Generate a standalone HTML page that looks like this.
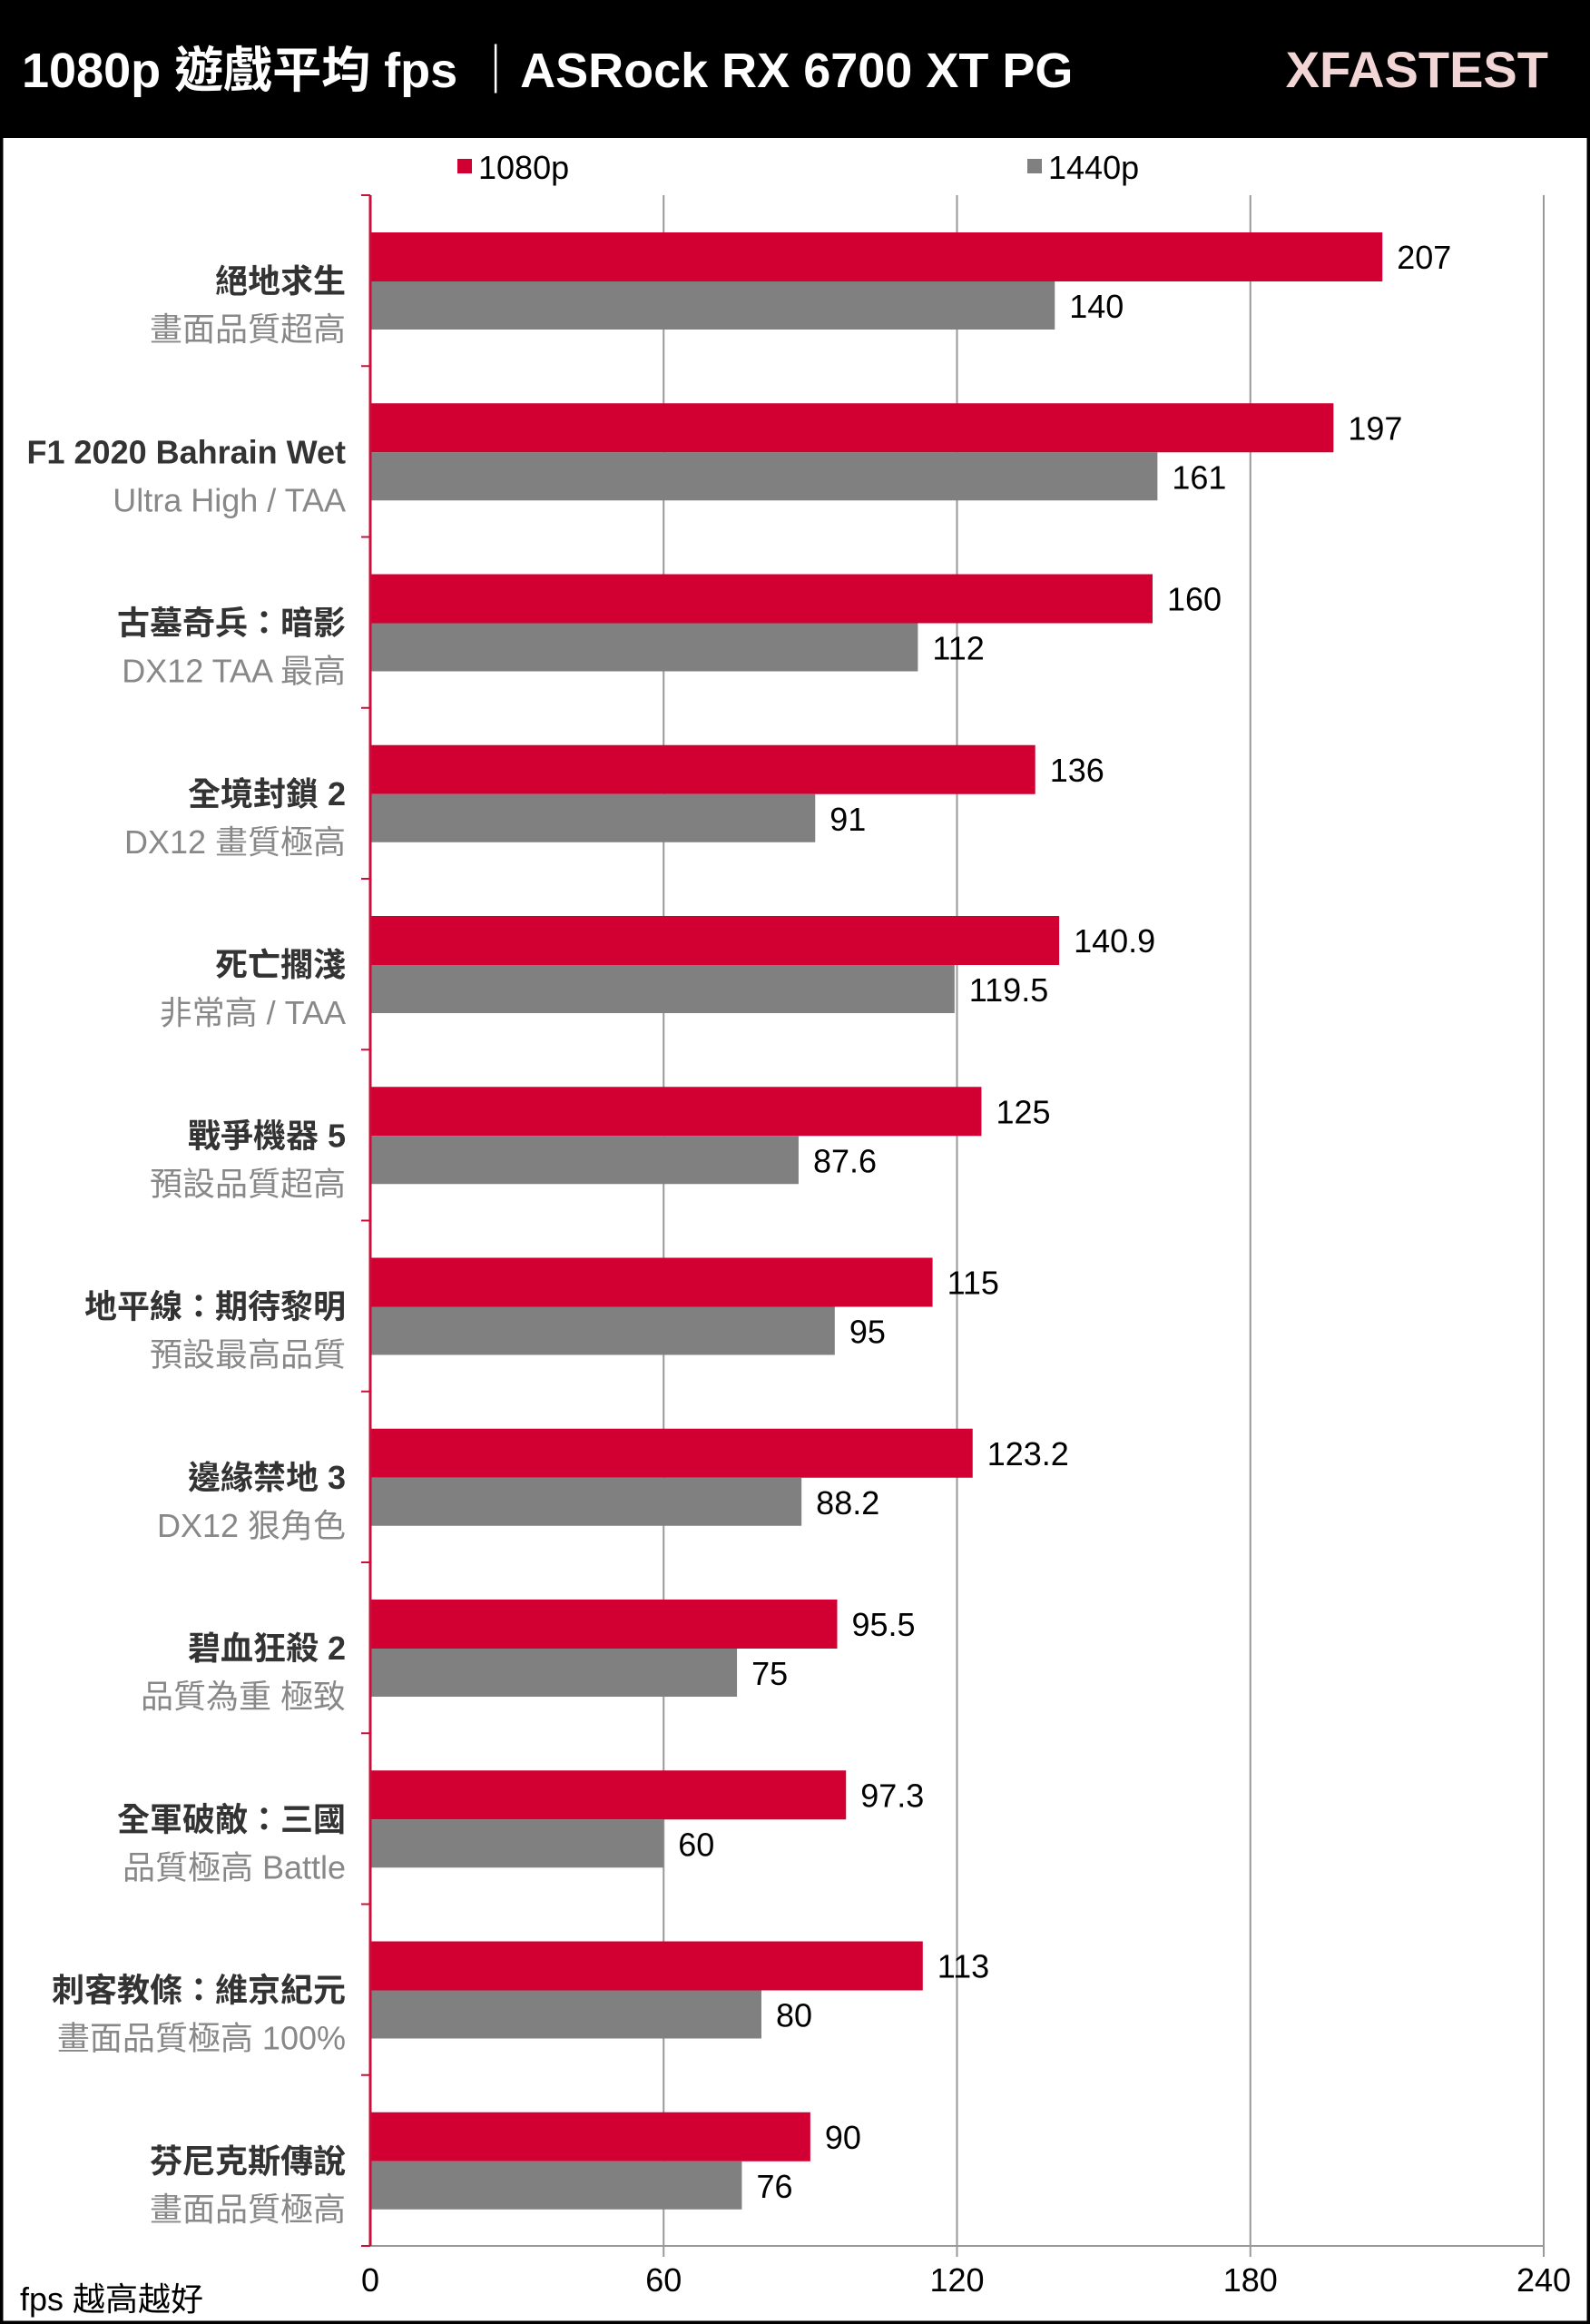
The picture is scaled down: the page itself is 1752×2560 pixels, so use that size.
<!DOCTYPE html>
<html><head><meta charset="utf-8"><style>
html,body{margin:0;padding:0;background:#fff}
svg{display:block}
</style></head><body>
<svg id="chart" width="1752" height="2560" viewBox="0 0 1752 2560" xmlns="http://www.w3.org/2000/svg" font-family="'Liberation Sans','Noto Sans CJK TC',sans-serif">
<rect x="0" y="0" width="1752" height="2560" fill="#fff"/>
<rect x="1.5" y="1.5" width="1749" height="2557" fill="none" stroke="#000" stroke-width="4"/>
<rect x="0" y="0" width="1752" height="152" fill="#000"/>
<text x="24" y="96" fill="#fff" font-size="54" font-weight="bold">1080p 遊戲平均 fps ｜ASRock RX 6700 XT PG</text>
<text x="1706" y="96" fill="#f2d6d6" font-size="56" font-weight="bold" text-anchor="end">XFASTEST</text>
<g>
<rect x="504" y="175" width="16" height="16" fill="#d20032"/>
<text x="527" y="197" font-size="36" fill="#000">1080p</text>
<rect x="1132" y="175" width="16" height="16" fill="#808080"/>
<text x="1155" y="197" font-size="36" fill="#000">1440p</text>
</g>
<g id="plot"></g>
<text x="22" y="2545" font-size="36" fill="#000">fps 越高越好</text>
</svg>
<script>
const games = ["絕地求生","F1 2020 Bahrain Wet","古墓奇兵：暗影","全境封鎖 2","死亡擱淺","戰爭機器 5","地平線：期待黎明","邊緣禁地 3","碧血狂殺 2","全軍破敵：三國","刺客教條：維京紀元","芬尼克斯傳說"];
const settings = ["畫面品質超高","Ultra High / TAA","DX12 TAA 最高","DX12 畫質極高","非常高 / TAA","預設品質超高","預設最高品質","DX12 狠角色","品質為重 極致","品質極高 Battle","畫面品質極高 100%","畫面品質極高"];
const fps1080 = [207,197,160,136,140.9,125,115,123.2,95.5,97.3,113,90];
const fps1440 = [140,161,112,91,119.5,87.6,95,88.2,75,60,80,76];
const ticks = [0,60,120,180,240];

const NS="http://www.w3.org/2000/svg";
const g=document.getElementById('plot');
const X0=408,X1=1701,TOP=215,BOT=2474,MAX=240;
const gh=(BOT-TOP)/games.length;
const xs=v=>X0+(X1-X0)*v/MAX;
function el(t,a){const e=document.createElementNS(NS,t);for(const k in a)e.setAttribute(k,a[k]);g.appendChild(e);return e;}
ticks.forEach((t,i)=>{
  if(i>0){const l=el('line',{x1:xs(t),x2:xs(t),y1:TOP,y2:BOT+12,stroke:'#999','stroke-width':2});
  
  }
  const tx=el('text',{x:xs(t),y:2524,'font-size':36,'text-anchor':'middle',fill:'#000'});tx.textContent=t;
  
  
});
const bl=el('line',{x1:X0,x2:X1,y1:BOT,y2:BOT,stroke:'#999','stroke-width':2});


games.forEach((n,i)=>{
  const y=TOP+i*gh;
  const r=el('rect',{x:X0,y:y+41,width:xs(fps1080[i])-X0,height:54,fill:'#d20032'});
  
  
  const b=el('rect',{x:X0,y:y+95,width:xs(fps1440[i])-X0,height:53,fill:'#808080'});
  
  
  const v1=el('text',{x:xs(fps1080[i])+16,y:y+81,'font-size':36,fill:'#000'});v1.textContent=fps1080[i];
  
  
  const v2=el('text',{x:xs(fps1440[i])+16,y:y+135,'font-size':36,fill:'#000'});v2.textContent=fps1440[i];
  
  
  const t1=el('text',{x:381,y:y+107,'font-size':36,'font-weight':'bold','text-anchor':'end',fill:'#333'});t1.textContent=n;
  
  
  const t2=el('text',{x:381,y:y+160,'font-size':36,'text-anchor':'end',fill:'#888'});t2.textContent=settings[i];
  
  
  const tk=el('line',{x1:X0-10,x2:X0,y1:y,y2:y,stroke:'#c8103a','stroke-width':2});
  
  
});
const ek=el('line',{x1:X0-10,x2:X0,y1:BOT,y2:BOT,stroke:'#c8103a','stroke-width':2});


const ax=el('line',{x1:X0,x2:X0,y1:TOP,y2:BOT,stroke:'#c8103a','stroke-width':3});


</script>
</body></html>
